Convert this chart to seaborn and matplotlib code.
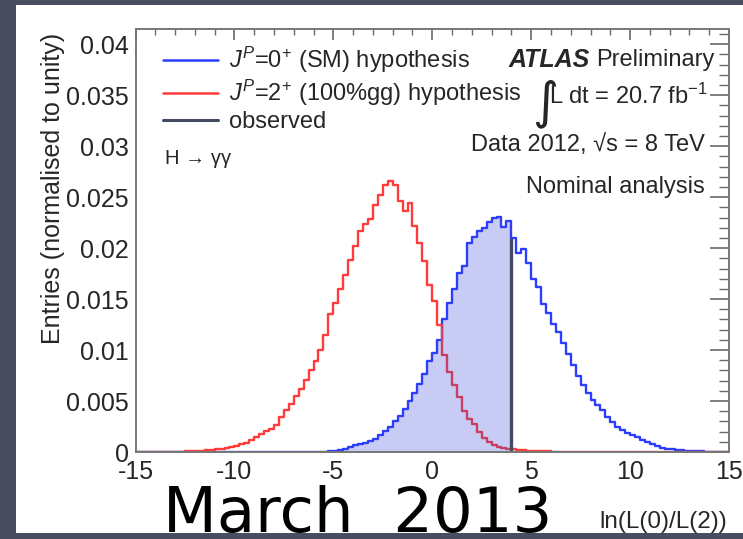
import numpy as np
import pandas as pd
import matplotlib
matplotlib.use("Agg")
import matplotlib.pyplot as plt
import seaborn as sns
from matplotlib.lines import Line2D
from matplotlib.patches import Rectangle
from matplotlib.ticker import MultipleLocator, FuncFormatter

# ---------------- data ----------------
bin_width = 0.25
x_min, x_max = -15.0, 15.0

# spin-2 (100% gg) pseudo-experiments, bins starting at red_start
red_start = -13.0
red_values = [
    0.00003, 0.00004, 0.00006, 0.00008, 0.0001, 0.00012, 0.00015, 0.0002,
    0.00025, 0.0003, 0.0004, 0.0005, 0.0006, 0.0008, 0.0009, 0.0012,
    0.0015, 0.0018, 0.0021, 0.0023, 0.0026, 0.0034, 0.0041, 0.0047,
    0.0055, 0.0062, 0.0071, 0.0080, 0.0089, 0.0100, 0.0115, 0.0135,
    0.0146, 0.0160, 0.0174, 0.0188, 0.0202, 0.0217, 0.0224, 0.0229,
    0.0242, 0.0252, 0.0262, 0.0266, 0.0262, 0.0246, 0.0236, 0.0244,
    0.0222, 0.0205, 0.0187, 0.0164, 0.0148, 0.0125, 0.0095, 0.0078,
    0.0066, 0.0054, 0.0040, 0.0032, 0.0027, 0.0020, 0.0014, 0.0010,
    0.0007, 0.0005, 0.0004, 0.0003, 0.00025, 0.0002, 0.00015, 0.00012,
    0.0001, 0.00008, 0.00006, 0.00005, 0.00003,
]

# spin-0 (SM) pseudo-experiments, bins starting at blue_start
blue_start = -5.5
blue_values = [
    0.00003, 0.00005, 0.0001, 0.0002, 0.0003, 0.0005, 0.0007, 0.0008,
    0.0009, 0.0011, 0.0013, 0.0017, 0.0021, 0.0025, 0.0030, 0.0035,
    0.0042, 0.0050, 0.0058, 0.0067, 0.0077, 0.0089, 0.0097, 0.0110,
    0.0130, 0.0146, 0.0160, 0.0176, 0.0182, 0.0205, 0.0211, 0.0217,
    0.0220, 0.0226, 0.0230, 0.0231, 0.0221, 0.0227, 0.0210, 0.0195,
    0.0199, 0.0185, 0.0170, 0.0162, 0.0145, 0.0136, 0.0126, 0.0118,
    0.0107, 0.0096, 0.0085, 0.0075, 0.0066, 0.0058, 0.0051, 0.0046,
    0.0041, 0.0034, 0.0029, 0.0025, 0.0022, 0.0019, 0.0017, 0.0015,
    0.0012, 0.0010, 0.0008, 0.0006, 0.0004, 0.0003, 0.00025, 0.0002,
    0.00015, 0.0001, 0.0001, 0.00008, 0.00005, 0.00004, 0.00003,
]

observed = 4.0

legend_labels = [
    r"$J^P$=$0^{+}$ (SM) hypothesis",
    r"$J^P$=$2^{+}$ (100%gg) hypothesis",
    "observed",
]
x_label = "ln(L(0)/L(2))"
y_label = "Entries (normalised to unity)"

# ---------------- build histogram table ----------------
n_bins = int(round((x_max - x_min) / bin_width))
edges = np.linspace(x_min, x_max, n_bins + 1)
centers = edges[:-1] + bin_width / 2
red_full = np.zeros(n_bins)
blue_full = np.zeros(n_bins)
i_r = int(round((red_start - x_min) / bin_width))
i_b = int(round((blue_start - x_min) / bin_width))
red_full[i_r:i_r + len(red_values)] = red_values
blue_full[i_b:i_b + len(blue_values)] = blue_values
df = pd.DataFrame({"x": centers, "spin0": blue_full, "spin2": red_full})

# ---------------- style ----------------
sns.set_theme(style="white")
plt.rcParams["font.family"] = ["Liberation Sans", "DejaVu Sans"]
plt.rcParams["axes.unicode_minus"] = False
plt.rcParams["mathtext.fontset"] = "custom"
plt.rcParams["mathtext.rm"] = "Liberation Sans"
plt.rcParams["mathtext.it"] = "Liberation Sans:italic"
plt.rcParams["mathtext.bf"] = "Liberation Sans:bold"

BLUE = "#2b3dff"
RED = "#ff3b3b"
OBS = "#444a62"
FILL = "#3c4bd8"
TXT = "#262626"
BG = "#484e5e"

W, H = 743, 539
fig = plt.figure(figsize=(W / 100, H / 100), dpi=100, facecolor=BG)


def fx(px):
    return px / W


def fy(py):
    return 1 - py / H


# white slide panel
fig.patches.append(Rectangle((fx(16), fy(533)), fx(743) - fx(16), fy(5) - fy(533),
                             transform=fig.transFigure, facecolor="white",
                             edgecolor="none", zorder=-5))

ax_l, ax_r, ax_t, ax_b = 135.5, 729.0, 29.0, 452.0
ax = fig.add_axes([fx(ax_l), fy(ax_b), fx(ax_r) - fx(ax_l), (ax_b - ax_t) / H])
ax.set_facecolor("white")

sns.histplot(data=df, x="x", weights="spin0", binwidth=bin_width,
             binrange=(x_min, x_max), element="step",
             fill=False, color=BLUE, linewidth=1.7, ax=ax, zorder=3)
sns.histplot(data=df, x="x", weights="spin2", binwidth=bin_width,
             binrange=(x_min, x_max), element="step",
             fill=False, color=RED, linewidth=1.7, ax=ax, zorder=4)
mask = df["x"] < observed
sns.histplot(data=df[mask], x="x", weights="spin0", binwidth=bin_width,
             binrange=(x_min, observed), element="step", fill=True,
             color=FILL, alpha=0.28, linewidth=0, ax=ax, zorder=5)
obs_idx = int(np.floor((observed - x_min) / bin_width))
ax.plot([observed, observed], [0, blue_full[obs_idx]], color=OBS, lw=2.4,
        zorder=6, solid_capstyle="butt")

ax.set_xlim(x_min, x_max)
ax.set_ylim(0, 0.0415)
ax.xaxis.set_major_locator(MultipleLocator(5))
ax.xaxis.set_minor_locator(MultipleLocator(1))
ax.yaxis.set_major_locator(MultipleLocator(0.005))
ax.yaxis.set_minor_locator(MultipleLocator(0.001))
ax.yaxis.set_major_formatter(FuncFormatter(lambda v, p: "0" if abs(v) < 1e-12 else f"{v:g}"))
ax.xaxis.set_major_formatter(FuncFormatter(lambda v, p: f"{v:g}"))

ax.tick_params(axis="both", which="both", direction="in", top=True, right=True,
               color="#6a6a6a", labelcolor=TXT, labelsize=18)
ax.tick_params(axis="y", which="major", length=13.5, width=1.2, pad=5.0)
ax.tick_params(axis="y", which="minor", length=7, width=1.0)
ax.tick_params(axis="x", which="major", length=8, width=1.2, pad=6.0)
ax.tick_params(axis="x", which="minor", length=4.5, width=1.0)
for s in ax.spines.values():
    s.set_color("#777777")
    s.set_linewidth(1.4)
    s.set_zorder(10)

ax.set_xlabel(x_label, fontsize=17.5, color=TXT, loc="right")
ax.xaxis.set_label_coords((727 - ax_l) / (ax_r - ax_l), -(511 - ax_b) / (ax_b - ax_t))
ax.set_ylabel(y_label, fontsize=18, color=TXT, loc="top")
ax.yaxis.set_label_coords((65 - ax_l) / (ax_r - ax_l), (ax_b - 33) / (ax_b - ax_t))

handles = [Line2D([], [], color=BLUE, lw=1.8),
           Line2D([], [], color=RED, lw=1.8),
           Line2D([], [], color=OBS, lw=2.2)]
leg = ax.legend(handles, legend_labels, loc="upper left",
                bbox_to_anchor=(fx(163), fy(45)), bbox_transform=fig.transFigure,
                frameon=False, fontsize=17, handlelength=2.35, handletextpad=0.45,
                labelspacing=0.12, borderpad=0, borderaxespad=0)
for t in leg.get_texts():
    t.set_color(TXT)

# annotations
fig.text(fx(509), fy(60), "ATLAS", fontsize=18, fontweight="bold", fontstyle="italic",
         ha="left", va="center", color=TXT)
fig.text(fx(714), fy(60), "Preliminary", fontsize=17, ha="right", va="center", color=TXT)
fig.text(fx(545), fy(104), "\u222b", fontsize=36, ha="center", va="center", color=TXT,
         family="DejaVu Sans")
fig.text(fx(708), fy(96), r"L dt = 20.7 fb$^{-1}$", fontsize=17, ha="right", va="center",
         color=TXT)
fig.text(fx(705), fy(145), "Data 2012, \u221as = 8 TeV", fontsize=17, ha="right",
         va="center", color=TXT)
fig.text(fx(705), fy(187), "Nominal analysis", fontsize=17, ha="right", va="center",
         color=TXT)
fig.text(fx(165), fy(158), "H \u2192 \u03b3\u03b3", fontsize=14.5, ha="left", va="center",
         color=TXT)

fig.text(fx(357.5), fy(532), "March  2013", fontsize=45, ha="center", va="baseline",
         color="black", family="DejaVu Sans")

fig.savefig("out.png", dpi=100, facecolor=BG)
